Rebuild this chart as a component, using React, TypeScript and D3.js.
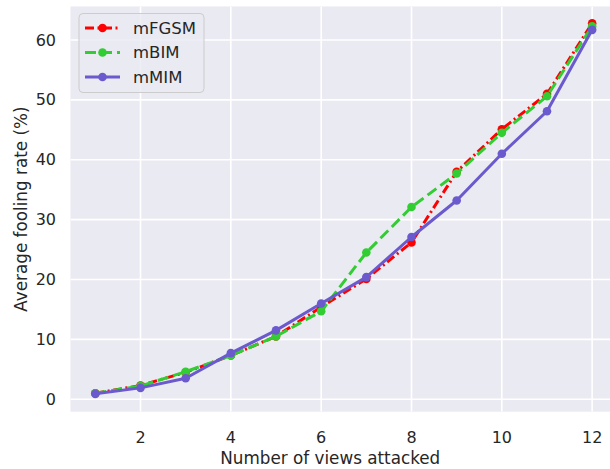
import React from "react";
import * as d3 from "d3";

const views = [1, 2, 3, 4, 5, 6, 7, 8, 9, 10, 11, 12];
const mFGSM = [1.0, 2.3, 4.5, 7.3, 10.5, 15.4, 20.1, 26.2, 38.0, 45.1, 51.0, 62.8];
const mBIM = [1.0, 2.2, 4.6, 7.3, 10.5, 14.7, 24.5, 32.1, 37.7, 44.5, 50.6, 62.3];
const mMIM = [0.9, 1.9, 3.5, 7.7, 11.5, 16.0, 20.4, 27.1, 33.2, 41.0, 48.1, 61.7];
const xTicks = [2, 4, 6, 8, 10, 12];
const yTicks = [0, 10, 20, 30, 40, 50, 60];
const seriesNames = ["mFGSM", "mBIM", "mMIM"];

const W = 610;
const H = 469;
const plot = { left: 70.5, top: 6.5, right: 617, bottom: 411.7 };
const font = "'DejaVu Sans', sans-serif";
const textColor = "#262626";

export default function App() {
  const x = d3.scaleLinear().domain([0.45, 12.55]).range([plot.left, plot.right]);
  const y = d3.scaleLinear().domain([-2.08, 65.6]).range([plot.bottom, plot.top]);
  const line = d3
    .line<[number, number]>()
    .x((d) => x(d[0]))
    .y((d) => y(d[1]));

  const series = [
    { name: seriesNames[0], values: mFGSM, color: "#ff0000", dash: "9,3.5,2,3.5" },
    { name: seriesNames[1], values: mBIM, color: "#32cd32", dash: "11,5" },
    { name: seriesNames[2], values: mMIM, color: "#6a5acd", dash: "none" },
  ];

  return (
    <svg
      width={W}
      height={H}
      style={{ position: "absolute", left: 0, top: 0, background: "#fff" }}
    >
      <defs>
        <clipPath id="plotclip">
          <rect x={plot.left} y={plot.top} width={plot.right - plot.left} height={plot.bottom - plot.top} />
        </clipPath>
      </defs>
      <rect
        x={plot.left}
        y={plot.top}
        width={plot.right - plot.left}
        height={plot.bottom - plot.top}
        fill="#eaeaf2"
      />
      <g clipPath="url(#plotclip)">
        {xTicks.map((t) => (
          <line key={"gx" + t} x1={x(t)} x2={x(t)} y1={plot.top} y2={plot.bottom} stroke="#fff" strokeWidth={1.6} />
        ))}
        {yTicks.map((t) => (
          <line key={"gy" + t} x1={plot.left} x2={plot.right} y1={y(t)} y2={y(t)} stroke="#fff" strokeWidth={1.6} />
        ))}
        {series.map((s) => {
          const pts = views.map((v, i) => [v, s.values[i]] as [number, number]);
          return (
            <g key={s.name}>
              <path
                d={line(pts) || ""}
                fill="none"
                stroke={s.color}
                strokeWidth={3}
                strokeDasharray={s.dash}
                strokeLinejoin="round"
              />
              {pts.map((p, i) => (
                <circle key={i} cx={x(p[0])} cy={y(p[1])} r={4.3} fill={s.color} />
              ))}
            </g>
          );
        })}
      </g>
      {xTicks.map((t) => (
        <text
          key={"tx" + t}
          x={x(t)}
          y={437}
          textAnchor="middle"
          dominantBaseline="central"
          fontFamily={font}
          fontSize={16}
          fill={textColor}
        >
          {t}
        </text>
      ))}
      {yTicks.map((t) => (
        <text
          key={"ty" + t}
          x={56}
          y={y(t)}
          textAnchor="end"
          dominantBaseline="central"
          fontFamily={font}
          fontSize={16}
          fill={textColor}
        >
          {t}
        </text>
      ))}
      <text
        x={(plot.left + 610) / 2 - 10}
        y={458}
        textAnchor="middle"
        dominantBaseline="central"
        fontFamily={font}
        fontSize={16.8}
        fill={textColor}
      >
        Number of views attacked
      </text>
      <text
        transform={`translate(21,${(plot.top + plot.bottom) / 2}) rotate(-90)`}
        textAnchor="middle"
        dominantBaseline="central"
        fontFamily={font}
        fontSize={16.8}
        fill={textColor}
      >
        Average fooling rate (%)
      </text>
      <g>
        <rect x={79} y={13.5} width={125} height={79} rx={4} fill="#eaeaf2" fillOpacity={0.8} stroke="#cccccc" strokeWidth={1} />
        {series.map((s, i) => {
          const cy = 28 + i * 24.5;
          return (
            <g key={"leg" + s.name}>
              <line x1={85} x2={120} y1={cy} y2={cy} stroke={s.color} strokeWidth={3} strokeDasharray={s.dash} />
              <circle cx={102.5} cy={cy} r={4.3} fill={s.color} />
              <text
                x={133}
                y={cy}
                dominantBaseline="central"
                fontFamily={font}
                fontSize={16.5}
                fill={textColor}
              >
                {s.name}
              </text>
            </g>
          );
        })}
      </g>
    </svg>
  );
}
